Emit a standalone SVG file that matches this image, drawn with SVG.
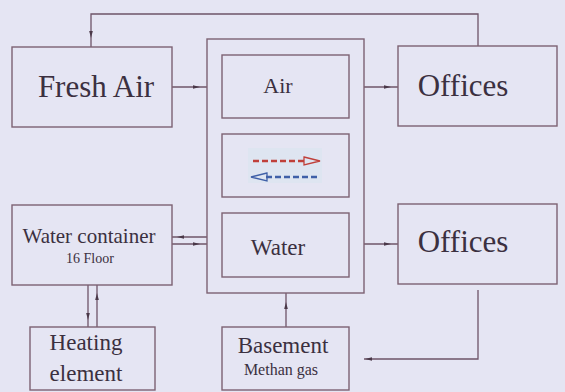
<svg xmlns="http://www.w3.org/2000/svg" width="565" height="392" viewBox="0 0 565 392">
<style>
.box{fill:none;stroke:#7d6272;stroke-width:1.4}
.ln{fill:none;stroke:#6e5468;stroke-width:1.3}
.t{fill:#3b3040;text-anchor:middle}
.ah{fill:#4a3848}
</style>
<defs>
<path id="ah" d="M-4,-1.8 L3,0 L-4,1.8 Z"/>
</defs>
<rect width="565" height="392" fill="#e5e5f3"/>
<g id="connectors">
<polyline class="ln" points="478,46 478,14 91,14 91,47"/>
<line class="ln" x1="172" y1="87" x2="207" y2="87"/>
<line class="ln" x1="364" y1="87" x2="398" y2="87"/>
<line class="ln" x1="364" y1="244" x2="398" y2="244"/>
<line class="ln" x1="172" y1="237" x2="207" y2="237"/>
<line class="ln" x1="172" y1="244" x2="207" y2="244"/>
<line class="ln" x1="88" y1="285" x2="88" y2="327"/>
<line class="ln" x1="97" y1="285" x2="97" y2="327"/>
<line class="ln" x1="286" y1="293" x2="286" y2="327"/>
<polyline class="ln" points="478,290 478,359 364,359"/>
<use href="#ah" class="ah" transform="translate(91,35) rotate(90)"/>
<use href="#ah" class="ah" transform="translate(197,87)"/>
<use href="#ah" class="ah" transform="translate(388,87)"/>
<use href="#ah" class="ah" transform="translate(388,244)"/>
<use href="#ah" class="ah" transform="translate(180,237) rotate(180)"/>
<use href="#ah" class="ah" transform="translate(197,244)"/>
<use href="#ah" class="ah" transform="translate(97,296) rotate(-90)"/>
<use href="#ah" class="ah" transform="translate(88,317) rotate(90)"/>
<use href="#ah" class="ah" transform="translate(286,305) rotate(-90)"/>
<use href="#ah" class="ah" transform="translate(368,359) rotate(180)"/>
</g>
<g font-family="Liberation Serif, DejaVu Serif, serif">
<g id="fresh-air">
<rect class="box" x="12" y="47" width="160" height="80"/>
<text class="t" x="96" y="97" font-size="31">Fresh Air</text>
</g>
<g id="exchanger">
<rect class="box" x="207" y="39" width="157" height="254"/>
</g>
<g id="air">
<rect class="box" x="222" y="55" width="127" height="63"/>
<text class="t" x="278" y="93" font-size="22">Air</text>
</g>
<g id="heat-exchange">
<rect class="box" x="222" y="134" width="127" height="63"/>
<rect x="248" y="148" width="74" height="35" fill="#d8e4f0" opacity="0.6"/>
<line x1="253" y1="161" x2="305" y2="161" stroke="#c0403a" stroke-width="2.4" stroke-dasharray="6,3"/>
<path d="M304,157 L320,161 L304,165 Z" fill="none" stroke="#c0403a" stroke-width="1.3"/>
<line x1="266" y1="177" x2="318" y2="177" stroke="#4060a8" stroke-width="2.4" stroke-dasharray="6,3"/>
<path d="M267,173 L251,177 L267,181 Z" fill="none" stroke="#4060a8" stroke-width="1.3"/>
</g>
<g id="water">
<rect class="box" x="222" y="213" width="127" height="64"/>
<text class="t" x="278" y="255" font-size="23">Water</text>
</g>
<g id="offices-1">
<rect class="box" x="398" y="46" width="159" height="80"/>
<text class="t" x="463" y="96" font-size="31">Offices</text>
</g>
<g id="offices-2">
<rect class="box" x="398" y="204" width="159" height="80"/>
<text class="t" x="463" y="252" font-size="31">Offices</text>
</g>
<g id="water-container">
<rect class="box" x="12" y="205" width="160" height="80"/>
<text class="t" x="89" y="243" font-size="21">Water container</text>
<text class="t" x="90" y="263" font-size="14">16 Floor</text>
</g>
<g id="heating-element">
<rect class="box" x="30" y="327" width="125" height="63"/>
<text class="t" x="86" y="350" font-size="23">Heating</text>
<text class="t" x="86" y="381" font-size="23">element</text>
</g>
<g id="basement">
<rect class="box" x="222" y="327" width="127" height="63"/>
<text class="t" x="283" y="353" font-size="23">Basement</text>
<text class="t" x="281" y="375" font-size="16">Methan gas</text>
</g>
</g>
</svg>
